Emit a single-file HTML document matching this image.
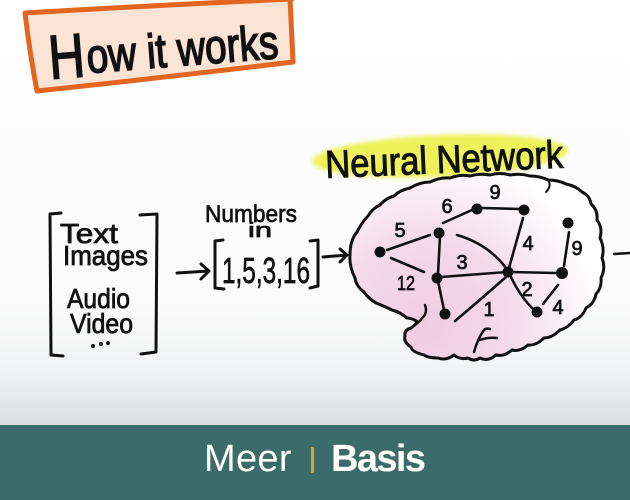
<!DOCTYPE html>
<html><head><meta charset="utf-8"><style>
html,body{margin:0;padding:0;}
body{width:630px;height:500px;overflow:hidden;position:relative;background:linear-gradient(to bottom,#fefefe 0px,#fbfbfb 300px,#f2f3f4 370px,#dcdee1 425px);font-family:"Liberation Sans",sans-serif;}
svg{position:absolute;left:0;top:0;}
.band{position:absolute;left:0;top:425px;width:630px;height:75px;background:#3c6c69;}
.meer{position:absolute;left:204px;top:435px;font-size:38px;color:#fff;line-height:48px;letter-spacing:0.3px;}
.bar{position:absolute;left:311px;top:447px;width:3px;height:26px;background:#e6a01f;}
.basis{position:absolute;left:331px;top:435px;font-size:38px;font-weight:bold;color:#fff;line-height:48px;letter-spacing:-1.6px;}
</style></head><body>
<svg width="630" height="500" viewBox="0 0 630 500" xmlns="http://www.w3.org/2000/svg">
<defs>
<radialGradient id="pk" cx="425" cy="325" r="175" gradientUnits="userSpaceOnUse">
<stop offset="0" stop-color="#f0cce0"/>
<stop offset="0.5" stop-color="#f4dbe9"/>
<stop offset="1" stop-color="#ffffff"/>
</radialGradient>
<filter id="bl"><feGaussianBlur stdDeviation="2"/></filter>
</defs>

<!-- How it works box -->
<path d="M25,13 L292,-2 L294,62 L37,91 Z" fill="#fbe4d6"/>
<path d="M25,13 Q160,5 292,-1 M290,-2 L293,62 Q160,78 37,91 M25,13 Q30,55 37,91" fill="none" stroke="#e2661f" stroke-width="5" stroke-linecap="round" stroke-linejoin="round"/>
<g transform="rotate(-4.5 50 76)" fill="#111" stroke="#111" stroke-width="1.6">
<text x="50" y="79" font-size="62" textLength="36" lengthAdjust="spacingAndGlyphs">H</text>
<text x="88" y="76" font-size="48" textLength="192" lengthAdjust="spacingAndGlyphs">ow it works</text>
</g>

<!-- Neural Network highlight -->
<g transform="rotate(-2.5 440 155)">
<ellipse cx="440" cy="156" rx="128" ry="21" fill="#eef25a" filter="url(#bl)"/>
<text x="325" y="173" font-size="39" textLength="238" lengthAdjust="spacingAndGlyphs" fill="#111" stroke="#111" stroke-width="1">Neural Network</text>
</g>

<!-- Blob -->
<path d="M350,255 Q350,240 357,232 Q362,222 368,216 Q373,208 380,205 Q386,198 394,196 Q400,190 410,188 Q420,182 430,182 Q440,177 450,178 Q460,174 470,176 Q480,173 490,175 Q500,172 510,175 Q520,173 530,176 Q540,176 548,180 Q558,180 566,184 Q576,186 582,192 Q590,196 591,204 Q598,210 597,220 Q603,228 600,238 Q605,248 602,258 Q606,268 601,278 Q602,288 596,294 Q594,304 586,308 Q582,318 574,320 Q568,328 560,330 Q552,338 544,338 Q536,346 528,345 Q520,352 512,350 Q504,357 496,355 Q488,362 480,358 Q474,362 468,358 Q460,360 454,355 Q446,361 438,358 Q428,358 424,355 Q412,352 411,347 Q403,342 405,336 Q404,330 411,328 Q416,324 418,322 Q412,318 407,318 Q400,312 392,310 Q384,306 376,303 Q368,298 364,292 Q356,286 355,278 Q349,266 350,255 Z" fill="url(#pk)" stroke="#111" stroke-width="3" stroke-linejoin="round"/>
<path d="M548,180 Q552,186 546,192" fill="none" stroke="#111" stroke-width="2" stroke-linecap="round"/>
<path d="M425,305 Q428,313 422,318 Q420,322 416,323" fill="none" stroke="#111" stroke-width="2.5" stroke-linecap="round"/>
<path d="M474,352 Q478,338 484,330 Q486,328 490,329 M480,340 Q488,337 497,338" fill="none" stroke="#111" stroke-width="2.5" stroke-linecap="round"/>

<!-- Network edges -->
<g fill="none" stroke="#111" stroke-width="2.6" stroke-linecap="round">
<path d="M387,250 L430,235"/>
<path d="M391,258 L424,272"/>
<path d="M443,223 L472,210"/>
<path d="M482,208 L520,209"/>
<path d="M440,236 L438,274"/>
<path d="M457,235 Q488,244 506,268"/>
<path d="M441,277 L507,272"/>
<path d="M438,281 L444,310"/>
<path d="M455,321 Q480,300 506,277"/>
<path d="M523,218 L509,268"/>
<path d="M510,272 L556,273"/>
<path d="M511,277 Q520,296 533,309"/>
<path d="M543,304 L558,285"/>
<path d="M569,232 L564,266"/>
</g>
<g fill="#111">
<circle cx="380" cy="252" r="5.5"/>
<circle cx="439" cy="233" r="5.5"/>
<circle cx="477" cy="209" r="5.5"/>
<circle cx="437" cy="278" r="5.5"/>
<circle cx="445" cy="314" r="5.5"/>
<circle cx="508" cy="272" r="5.5"/>
<circle cx="524" cy="210" r="5.5"/>
<circle cx="568" cy="223" r="5.5"/>
<circle cx="562" cy="273" r="6"/>
<circle cx="537" cy="312" r="5.5"/>
</g>
<g fill="#111" stroke="#111" stroke-width="0.7" font-size="20" text-anchor="middle">
<text x="400" y="237">5</text>
<text x="406" y="290" textLength="18" lengthAdjust="spacingAndGlyphs">12</text>
<text x="447" y="213">6</text>
<text x="495" y="199">9</text>
<text x="462" y="269">3</text>
<text x="528" y="250">4</text>
<text x="577" y="255">9</text>
<text x="527" y="296">2</text>
<text x="558" y="314">4</text>
<text x="489" y="316">1</text>
</g>

<path d="M614,254 L630,253" stroke="#111" stroke-width="2.5" stroke-linecap="round"/>

<!-- left bracket list -->
<path d="M61,213 L50,214 L51,355 L63,356" fill="none" stroke="#111" stroke-width="3" stroke-linecap="round" stroke-linejoin="round"/>
<path d="M140,215 L157,214 L156,352 L141,354" fill="none" stroke="#111" stroke-width="3" stroke-linecap="round" stroke-linejoin="round"/>
<g fill="#111" stroke="#111" stroke-width="0.8" font-size="28">
<text x="60" y="243" textLength="58" lengthAdjust="spacingAndGlyphs">Text</text>
<text x="63" y="265" textLength="85" lengthAdjust="spacingAndGlyphs">Images</text>
<text x="67" y="308" textLength="63" lengthAdjust="spacingAndGlyphs">Audio</text>
<text x="70" y="333" textLength="63" lengthAdjust="spacingAndGlyphs">Video</text>
</g>
<circle cx="93" cy="346" r="2" fill="#111"/>
<circle cx="101" cy="344" r="2" fill="#111"/>
<circle cx="108" cy="343" r="2" fill="#111"/>

<path d="M177,273 L209,271 M201,264 L209,271 L201,279" fill="none" stroke="#111" stroke-width="3" stroke-linecap="round" stroke-linejoin="round"/>
<g fill="#111" stroke="#111" stroke-width="0.7">
<text x="205" y="222" font-size="24" textLength="92" lengthAdjust="spacingAndGlyphs">Numbers</text>
<text x="248" y="237" font-size="20" textLength="24" lengthAdjust="spacingAndGlyphs">in</text>
<text x="222" y="283" font-size="36" textLength="88" lengthAdjust="spacingAndGlyphs">1,5,3,16</text>
</g>
<path d="M223,240 L215,241 L215,288 L224,289" fill="none" stroke="#111" stroke-width="3" stroke-linecap="round" stroke-linejoin="round"/>
<path d="M310,241 L318,240 L318,286 L310,288" fill="none" stroke="#111" stroke-width="3" stroke-linecap="round" stroke-linejoin="round"/>
<path d="M323,257 L347,255 M340,249 L347,255 L340,262" fill="none" stroke="#111" stroke-width="3" stroke-linecap="round" stroke-linejoin="round"/>
</svg>

<div class="band"></div>
<div class="meer">Meer</div>
<div class="bar"></div>
<div class="basis">Basis</div>
</body></html>
